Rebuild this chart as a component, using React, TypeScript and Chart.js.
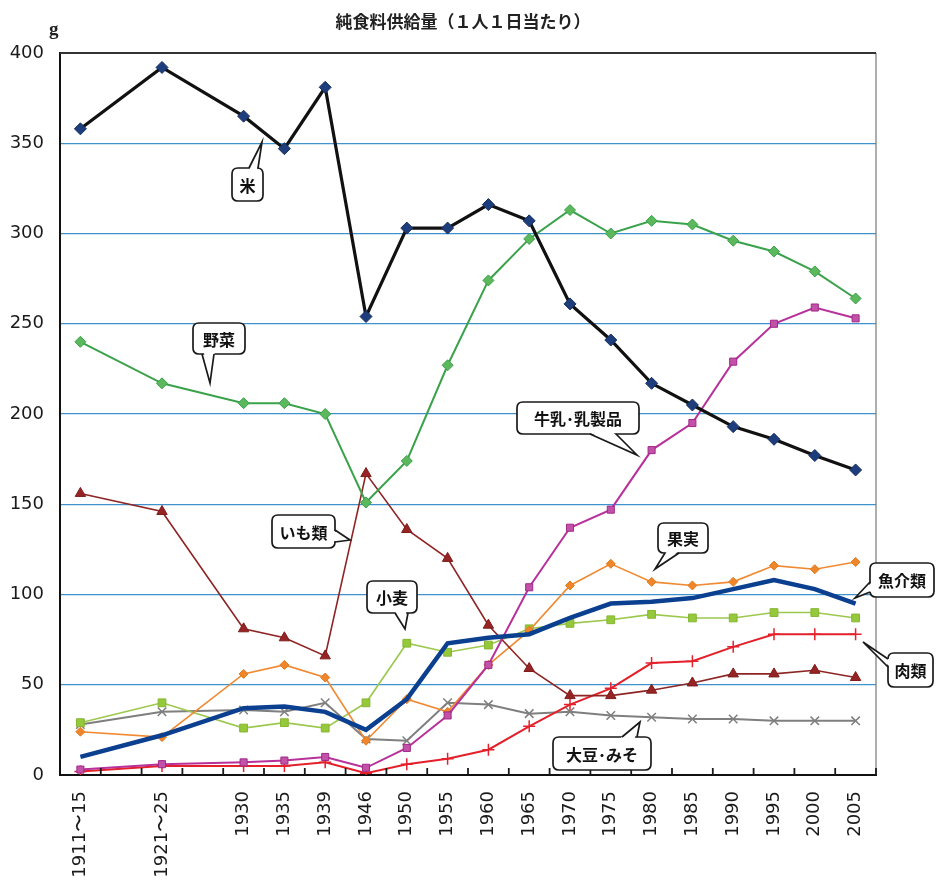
import React, { useEffect, useRef } from 'react';
import { Chart, registerables } from 'chart.js';

Chart.register(...registerables);

const W = 937;
const H = 885;

const categories = ['1911〜15', '', '1921〜25', '', '1930', '1935', '1939', '1946', '1950', '1955', '1960', '1965', '1970', '1975', '1980', '1985', '1990', '1995', '2000', '2005'];
const yTicks = [0, 50, 100, 150, 200, 250, 300, 350, 400];

const n = null;
const rice = [358, n, 392, n, 365, 347, 381, 254, 303, 303, 316, 307, 261, 241, 217, 205, 193, 186, 177, 169];
const vegetables = [240, n, 217, n, 206, 206, 200, 151, 174, 227, 274, 297, 313, 300, 307, 305, 296, 290, 279, 264];
const milk = [3, n, 6, n, 7, 8, 10, 4, 15, 33, 61, 104, 137, 147, 180, 195, 229, 250, 259, 253];
const potatoes = [156, n, 146, n, 81, 76, 66, 167, 136, 120, 83, 59, 44, 44, 47, 51, 56, 56, 58, 54];
const fruit = [24, n, 21, n, 56, 61, 54, 19, 42, 35, 61, 80, 105, 117, 107, 105, 107, 116, 114, 118];
const wheat = [29, n, 40, n, 26, 29, 26, 40, 73, 68, 72, 81, 84, 86, 89, 87, 87, 90, 90, 87];
const fish = [10, n, 22, n, 37, 38, 35, 25, 42, 73, 76, 78, 87, 95, 96, 98, 103, 108, 103, 95];
const meat = [2, n, 5, n, 5, 5, 7, 1, 6, 9, 14, 27, 39, 48, 62, 63, 71, 78, 78, 78];
const soy = [28, n, 35, n, 36, 35, 40, 20, 19, 40, 39, 34, 35, 33, 32, 31, 31, 30, 30, 30];

const seriesNames = ['米', '魚介類', '野菜', '牛乳・乳製品', 'いも類', '果実', '小麦', '肉類', '大豆・みそ'];

type Callout = {
  text: string;
  box: [number, number, number, number];
  base: [number, number, number, number];
  tip: [number, number];
};

const callouts: Callout[] = [
  { text: '米', box: [232, 168, 31, 33], base: [249, 168, 258, 168], tip: [262, 142] },
  { text: '野菜', box: [193, 323, 52, 31], base: [202, 354, 214, 354], tip: [210, 383] },
  { text: '牛乳･乳製品', box: [517, 402, 122, 32], base: [590, 434, 616, 434], tip: [637, 455] },
  { text: 'いも類', box: [272, 515, 63, 33], base: [335, 530, 335, 542], tip: [350, 540] },
  { text: '小麦', box: [367, 581, 50, 32], base: [395, 613, 408, 613], tip: [405, 629] },
  { text: '果実', box: [658, 523, 50, 30], base: [665, 553, 679, 553], tip: [655, 569] },
  { text: '魚介類', box: [870, 563, 64, 34], base: [870, 582, 870, 592], tip: [855, 598] },
  { text: '肉類', box: [888, 653, 45, 34], base: [888, 659, 888, 667], tip: [863, 642] },
  { text: '大豆･みそ', box: [553, 737, 98, 33], base: [622, 737, 637, 737], tip: [640, 722] },
];

const CJK = "'Noto Sans CJK JP', 'Noto Sans', sans-serif";

function roundRect(ctx: CanvasRenderingContext2D, x: number, y: number, w: number, h: number, r: number) {
  ctx.beginPath();
  ctx.moveTo(x + r, y);
  ctx.lineTo(x + w - r, y);
  ctx.quadraticCurveTo(x + w, y, x + w, y + r);
  ctx.lineTo(x + w, y + h - r);
  ctx.quadraticCurveTo(x + w, y + h, x + w - r, y + h);
  ctx.lineTo(x + r, y + h);
  ctx.quadraticCurveTo(x, y + h, x, y + h - r);
  ctx.lineTo(x, y + r);
  ctx.quadraticCurveTo(x, y, x + r, y);
  ctx.closePath();
}

function drawCallout(ctx: CanvasRenderingContext2D, c: Callout) {
  const [x, y, w, h] = c.box;
  const [bx1, by1, bx2, by2] = c.base;
  const [tx, ty] = c.tip;
  ctx.save();
  ctx.lineWidth = 1.7;
  ctx.strokeStyle = '#1a1a1a';
  ctx.fillStyle = '#ffffff';
  roundRect(ctx, x, y, w, h, 6);
  ctx.fill();
  ctx.stroke();
  const cx = x + w / 2;
  const cy = y + h / 2;
  const inset = (px: number, py: number) => {
    const dx = cx - px;
    const dy = cy - py;
    const d = Math.hypot(dx, dy) || 1;
    return [px + (dx / d) * 2.5, py + (dy / d) * 2.5];
  };
  const [ix1, iy1] = inset(bx1, by1);
  const [ix2, iy2] = inset(bx2, by2);
  ctx.beginPath();
  ctx.moveTo(ix1, iy1);
  ctx.lineTo(tx, ty);
  ctx.lineTo(ix2, iy2);
  ctx.closePath();
  ctx.fill();
  ctx.beginPath();
  ctx.moveTo(bx1, by1);
  ctx.lineTo(tx, ty);
  ctx.lineTo(bx2, by2);
  ctx.stroke();
  ctx.fillStyle = '#111';
  ctx.font = `bold 16px ${CJK}`;
  ctx.textAlign = 'center';
  ctx.textBaseline = 'middle';
  ctx.fillText(c.text, x + w / 2, y + h / 2 + 1);
  ctx.restore();
}

const decorPlugin = {
  id: 'decor',
  beforeDraw(chart: any) {
    const ctx = chart.ctx as CanvasRenderingContext2D;
    ctx.save();
    ctx.fillStyle = '#ffffff';
    ctx.fillRect(0, 0, chart.width, chart.height);
    ctx.restore();
  },
  beforeDatasetsDraw(chart: any) {
    const ctx = chart.ctx as CanvasRenderingContext2D;
    const a = chart.chartArea;
    ctx.save();
    ctx.strokeStyle = '#777';
    ctx.lineWidth = 1.2;
    ctx.beginPath();
    ctx.moveTo(a.right, a.top);
    ctx.lineTo(a.right, a.bottom);
    ctx.stroke();
    ctx.strokeStyle = '#333';
    ctx.lineWidth = 1.8;
    ctx.beginPath();
    ctx.moveTo(a.left, a.top);
    ctx.lineTo(a.right, a.top);
    ctx.stroke();
    ctx.restore();
  },
  afterDraw(chart: any) {
    const ctx = chart.ctx as CanvasRenderingContext2D;
    const a = chart.chartArea;
    ctx.save();
    // inward tick marks on x axis at category boundaries
    const count = categories.length;
    const slot = (a.right - a.left) / count;
    ctx.strokeStyle = '#1a1a1a';
    ctx.lineWidth = 1.8;
    for (let i = 1; i <= count; i++) {
      const px = a.left + i * slot;
      ctx.beginPath();
      ctx.moveTo(px, a.bottom);
      ctx.lineTo(px, a.bottom - 7);
      ctx.stroke();
    }
    ctx.fillStyle = '#222';
    ctx.font = `bold 17px ${CJK}`;
    ctx.textAlign = 'center';
    ctx.textBaseline = 'middle';
    ctx.fillText('純食料供給量（１人１日当たり）', 463, 22);
    ctx.font = "bold 19px 'Liberation Serif', serif";
    ctx.textAlign = 'left';
    ctx.fillText('g', 49, 30);
    ctx.restore();
    callouts.forEach((c) => drawCallout(ctx, c));
  },
};

export default function App() {
  const ref = useRef<HTMLCanvasElement | null>(null);

  useEffect(() => {
    document.body.style.margin = '0';
    const canvas = ref.current;
    if (!canvas) return;
    const common = { spanGaps: true, tension: 0, fill: false };
    const chart = new Chart(canvas, {
      type: 'line',
      data: {
        labels: categories,
        datasets: [
          { ...common, label: seriesNames[0], data: rice, borderColor: '#111111', borderWidth: 3.2, pointStyle: 'rectRot', pointRadius: 6, pointBackgroundColor: '#1d3d7c', pointBorderColor: '#15305f', pointBorderWidth: 1 },
          { ...common, label: seriesNames[1], data: fish, borderColor: '#0b3f8f', borderWidth: 4.5, pointRadius: 0 },
          { ...common, label: seriesNames[2], data: vegetables, borderColor: '#3aa24a', borderWidth: 2, pointStyle: 'rectRot', pointRadius: 5.5, pointBackgroundColor: '#5cb85c', pointBorderColor: '#3aa24a', pointBorderWidth: 1 },
          { ...common, label: seriesNames[3], data: milk, borderColor: '#b8309a', borderWidth: 2, pointStyle: 'rect', pointRadius: 5, pointBackgroundColor: '#c252a8', pointBorderColor: '#a02888', pointBorderWidth: 1 },
          { ...common, label: seriesNames[4], data: potatoes, borderColor: '#8e2424', borderWidth: 1.6, pointStyle: 'triangle', pointRadius: 6, pointBackgroundColor: '#962424', pointBorderColor: '#7e1c1c', pointBorderWidth: 1 },
          { ...common, label: seriesNames[5], data: fruit, borderColor: '#f08a32', borderWidth: 1.6, pointStyle: 'rectRot', pointRadius: 4.5, pointBackgroundColor: '#f0862a', pointBorderColor: '#e07a20', pointBorderWidth: 1 },
          { ...common, label: seriesNames[6], data: wheat, borderColor: '#9cc84e', borderWidth: 1.6, pointStyle: 'rect', pointRadius: 5.5, pointBackgroundColor: '#96c83c', pointBorderColor: '#86b632', pointBorderWidth: 1 },
          { ...common, label: seriesNames[7], data: meat, borderColor: '#e4202a', borderWidth: 2, pointStyle: 'cross', pointRadius: 6, pointBorderColor: '#e4202a', pointBorderWidth: 1.5 },
          { ...common, label: seriesNames[8], data: soy, borderColor: '#7f7f7f', borderWidth: 2, pointStyle: 'crossRot', pointRadius: 6, pointBorderColor: '#7f7f7f', pointBorderWidth: 1.5 },
        ],
      },
      options: {
        responsive: false,
        animation: false,
        layout: { padding: { top: 53, right: 61, left: 0, bottom: 0 } },
        plugins: {
          legend: { display: false },
          title: { display: false },
          tooltip: { enabled: false },
        },
        scales: {
          x: {
            type: 'category',
            offset: true,
            grid: { display: false },
            border: { display: true, color: '#111', width: 2 },
            ticks: {
              autoSkip: false,
              maxRotation: 90,
              minRotation: 90,
              padding: 8,
              color: '#1a1a1a',
              font: { family: "'DejaVu Sans', sans-serif", size: 18 },
            },
            afterFit: (s: any) => { s.height = 110; },
          },
          y: {
            min: 0,
            max: 400,
            afterBuildTicks: (s: any) => { s.ticks = yTicks.map((v) => ({ value: v })); },
            grid: {
              drawTicks: false,
              tickLength: 0,
              color: (c: any) => (c.tick && (c.tick.value === 0 || c.tick.value === 400) ? 'rgba(0,0,0,0)' : '#3f92cc'),
              lineWidth: 1.2,
            },
            border: { display: true, color: '#111', width: 2 },
            ticks: {
              padding: 16,
              color: '#1a1a1a',
              font: { family: "'DejaVu Sans', sans-serif", size: 18 },
            },
            afterFit: (s: any) => { s.width = 60; },
          },
        },
      },
      plugins: [decorPlugin],
    } as any);
    return () => chart.destroy();
  }, []);

  return (
    <div style={{ width: W, height: H }}>
      <canvas ref={ref} width={W} height={H} style={{ width: W, height: H, display: 'block' }} />
    </div>
  );
}
